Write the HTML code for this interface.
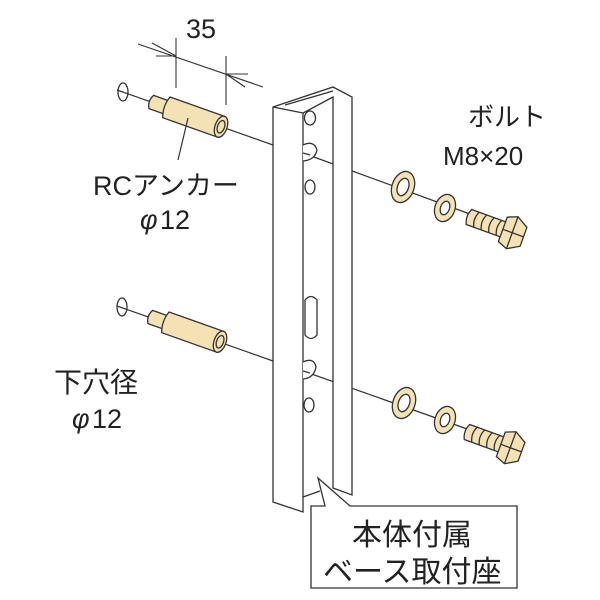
<!DOCTYPE html>
<html><head><meta charset="utf-8"><style>
body{margin:0;background:#fff}
svg{display:block}
text{font-family:"Liberation Sans","Noto Sans CJK JP",sans-serif;fill:#222}
</style></head><body>
<svg width="600" height="600" viewBox="0 0 600 600" xmlns="http://www.w3.org/2000/svg">
<defs>
<g id="anchor" stroke="#333" stroke-width="1.3" fill="#f4e2b4">
  <ellipse cx="0" cy="0" rx="5" ry="9" fill="none" transform="rotate(-19.5)"/>
  <path d="M30,-7 L46,-7 L46,7 L30,7 Q26,0 30,-7Z"/>
  <path d="M46,-11 L104,-11 L104,11 L46,11 Q42,0 46,-11Z"/>
  <ellipse cx="104" cy="0" rx="6" ry="11"/>
  <ellipse cx="104" cy="0" rx="3.5" ry="6.5"/>
</g>
<g id="washerA" stroke="#333" stroke-width="1.3" fill="#f4e2b4">
  <ellipse cx="0" cy="0" rx="11" ry="16" transform="rotate(20)"/>
  <ellipse cx="0" cy="0" rx="5.5" ry="9" fill="#fff" transform="rotate(20)"/>
</g>
<g id="washerB" stroke="#333" stroke-width="1.3" fill="#f4e2b4">
  <ellipse cx="0" cy="0" rx="10" ry="14" transform="rotate(20)"/>
  <ellipse cx="0" cy="0" rx="4.5" ry="7" fill="#fff" transform="rotate(20)"/>
</g>
<g id="bolt" stroke="#333" stroke-width="1.3" fill="#f4e2b4">
  <path d="M0,-8 L40,-8 L40,8 L0,8 Q-4,0 0,-8Z"/>
  <path d="M8,-8 Q4,0 8,8 M16,-8 Q12,0 16,8 M24,-8 Q20,0 24,8 M32,-8 Q28,0 32,8" fill="none"/>
  <path d="M36,-13 L46,-17 L58,-10 L58,10 L46,17 L36,13Z"/>
  <path d="M46,-17 L46,17 M36,0 L58,0" fill="none"/>
</g>
</defs>

<g stroke="#333" stroke-width="1.2" fill="none">
  <line x1="117" y1="90" x2="273" y2="145"/>
  <line x1="303" y1="153" x2="470" y2="214"/>
  <line x1="117" y1="306" x2="273" y2="361"/>
  <line x1="303" y1="371" x2="470" y2="430"/>
</g>

<use href="#anchor" transform="translate(123,92) rotate(19.5)"/>
<use href="#anchor" transform="translate(122,307) rotate(19.5)"/>

<g stroke="#333" stroke-width="1.1" fill="none">
  <line x1="176" y1="38" x2="176" y2="88"/>
  <line x1="226" y1="56" x2="226" y2="105"/>
  <line x1="138" y1="44" x2="263" y2="87"/>
  <line x1="152" y1="43" x2="176" y2="56"/>
  <line x1="156" y1="56" x2="176" y2="56"/>
  <line x1="226" y1="74" x2="248" y2="74"/>
  <line x1="226" y1="74" x2="245" y2="87"/>
</g>
<text x="186" y="38" font-size="27">35</text>

<g stroke="#333" stroke-width="1.3" fill="#fff">
  <path d="M273,107 L333,87 L352,97 L352,495 L333,488 L333,97 L303,113 L303,512 L273,502Z"/>
  <path d="M273,107 L303,113 M285,105 L333,91 M303,497 L320,491" fill="none"/>
  <ellipse cx="310" cy="118" rx="5.5" ry="7"/>
  <path d="M303,145 Q314,140 317,150 Q315,160 303,161" />
  <ellipse cx="310" cy="187" rx="5" ry="7"/>
  <path d="M305,300 Q311,293 317,300 L317,335 Q311,342 305,335Z"/>
  <path d="M303,362 Q314,357 316,367 Q314,378 303,379"/>
  <ellipse cx="309" cy="405" rx="5" ry="7"/>
</g>
<line x1="303" y1="153" x2="310" y2="155" stroke="#333" stroke-width="1.2"/>
<line x1="303" y1="371" x2="310" y2="373" stroke="#333" stroke-width="1.2"/>

<use href="#washerA" transform="translate(403,187)"/>
<use href="#washerB" transform="translate(445,208)"/>
<use href="#bolt" transform="translate(469,217) rotate(20)"/>
<use href="#washerA" transform="translate(404,403)"/>
<use href="#washerB" transform="translate(445,420)"/>
<use href="#bolt" transform="translate(467,432) rotate(20)"/>

<line x1="188" y1="118" x2="178" y2="160" stroke="#333" stroke-width="1.2"/>

<path d="M311,506 L325,506 L318,478 L350,506 L517,506 L517,588 L311,588Z" fill="#fff" stroke="#333" stroke-width="1.3"/>

<text x="93" y="195" font-size="27">RCアンカー</text>
<text x="140" y="229" font-size="27" font-style="italic">φ</text><text x="160" y="229" font-size="27">12</text>
<text x="468" y="126" font-size="26">ボルト</text>
<text x="443" y="165" font-size="26">M8×20</text>
<text x="54" y="392" font-size="28">下穴径</text>
<text x="72" y="428" font-size="27" font-style="italic">φ</text><text x="92" y="428" font-size="27">12</text>
<text x="352" y="545" font-size="30">本体付属</text>
<text x="323" y="582" font-size="30">ベース取付座</text>
</svg>
</body></html>
